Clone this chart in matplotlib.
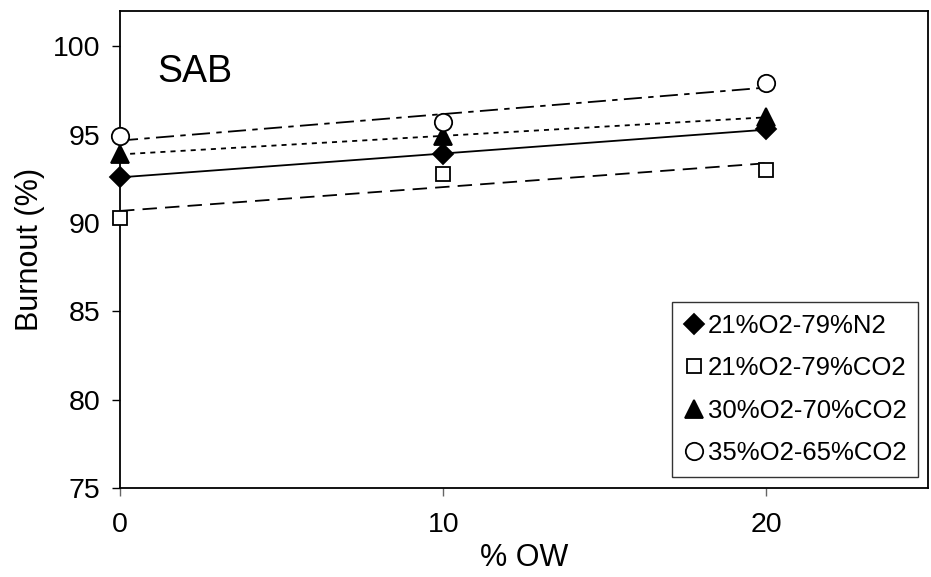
import numpy as np
import matplotlib as mpl
mpl.use("Agg")
import matplotlib.pyplot as plt
from matplotlib.lines import Line2D

mpl.rcParams['font.family'] = ['Liberation Sans', 'DejaVu Sans']

# data
ow = [0, 10, 20]
labels = ['21%O2-79%N2', '21%O2-79%CO2', '30%O2-70%CO2', '35%O2-65%CO2']
n2_21 = [92.6, 93.9, 95.3]
co2_21 = [90.3, 92.8, 93.0]
co2_30 = [93.9, 94.9, 96.0]
co2_35 = [94.9, 95.7, 97.9]

series = [n2_21, co2_21, co2_30, co2_35]
markers = ['D', 's', '^', 'o']
msizes = [10, 10.5, 13, 12.5]
faces = ['black', 'white', 'black', 'white']
styles = ['-', (0, (8, 4.5)), (0, (2.8, 2.8)), (0, (10, 3.5, 3, 3.5))]

fig = plt.figure(figsize=(9.31, 5.77), dpi=100)
ax = fig.add_axes([120/931, 89/577, 808/931, 477/577])

handles = []
for ys, m, ms, fc, ls, lab in zip(series, markers, msizes, faces, styles, labels):
    # linear trend line
    k, b = np.polyfit(ow, ys, 1)
    xx = np.array([ow[0], ow[-1]])
    ax.plot(xx, k*xx + b, color='black', lw=1.3, linestyle=ls, zorder=2)
    ax.plot(ow, ys, linestyle='none', marker=m, markersize=ms,
            markerfacecolor=fc, markeredgecolor='black', markeredgewidth=1.3,
            zorder=3, clip_on=False)
    handles.append(Line2D([], [], linestyle='none', marker=m, markersize=ms,
                          markerfacecolor=fc, markeredgecolor='black',
                          markeredgewidth=1.3, label=lab))

ax.set_xlim(0, 25)
ax.set_ylim(75, 102)
ax.set_xticks([0, 10, 20])
ax.set_yticks([75, 80, 85, 90, 95, 100])
ax.tick_params(axis='both', direction='out', length=6, width=1,
               labelsize=20.5, pad=8)
ax.tick_params(axis='x', color='#666666', pad=11)
for s in ax.spines.values():
    s.set_linewidth(1.3)

ax.set_xlabel('% OW', fontsize=22, labelpad=4)
ax.set_ylabel('Burnout (%)', fontsize=22, labelpad=6)

ax.text(1.15, 98.0, 'SAB', fontsize=27)

leg = ax.legend(handles=handles, loc='lower right',
                bbox_to_anchor=(0.988, 0.023), borderaxespad=0,
                fontsize=18.5, frameon=True, fancybox=False,
                handlelength=0.8, handletextpad=0.15, labelspacing=0.72,
                borderpad=0.45)
leg.get_frame().set_edgecolor('black')
leg.get_frame().set_linewidth(1.0)

fig.savefig('out.png', dpi=100)
